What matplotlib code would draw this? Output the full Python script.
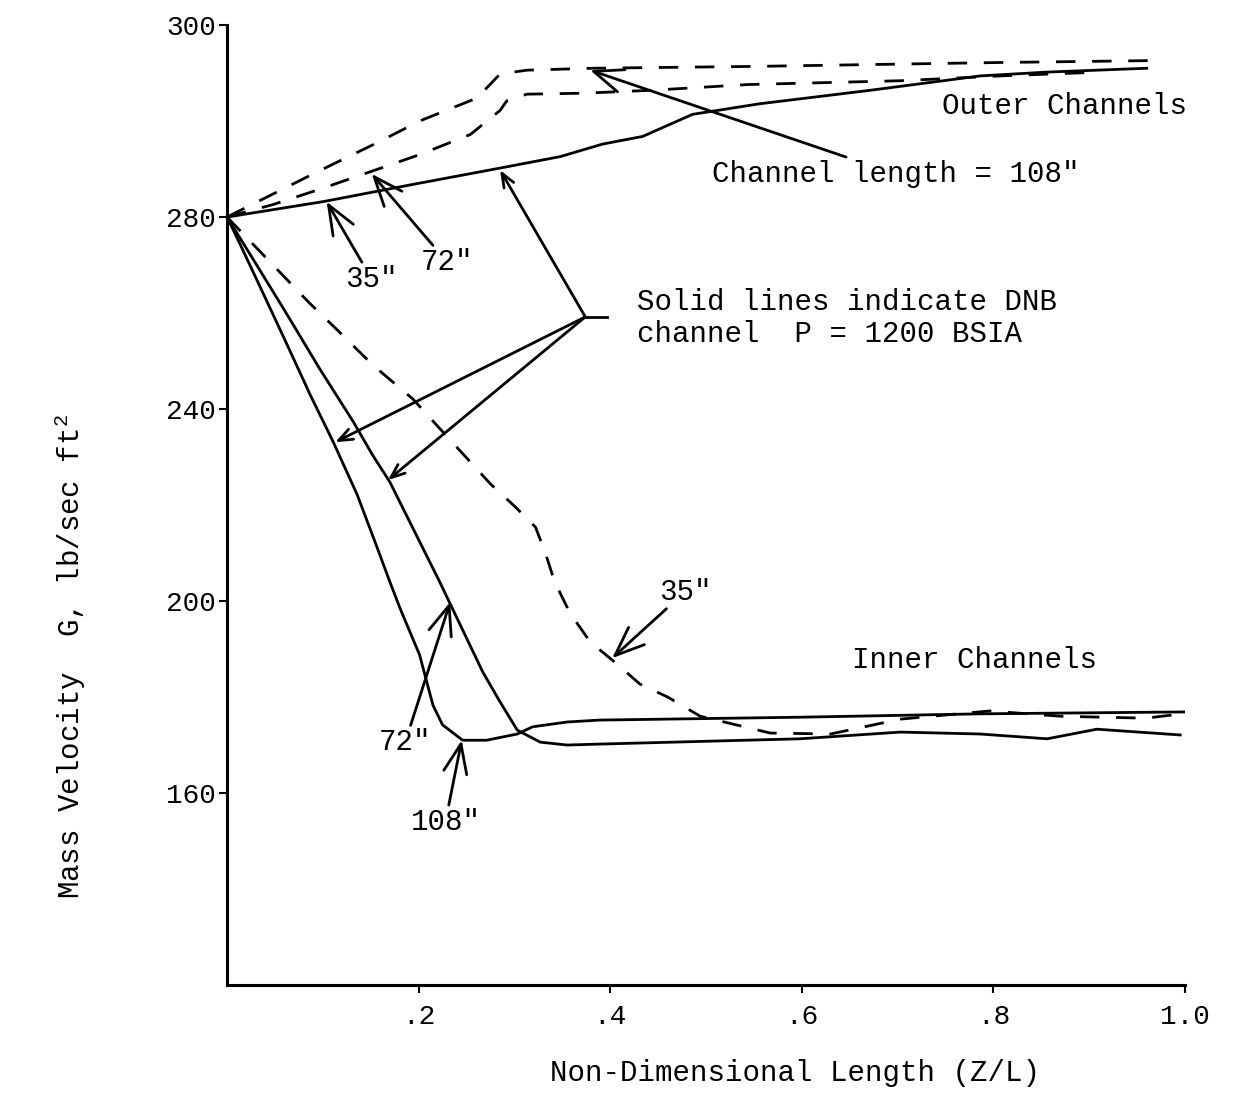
import numpy as np
import matplotlib
matplotlib.use("Agg")
import matplotlib.pyplot as plt

plt.rcParams['font.family'] = ['Liberation Mono', 'DejaVu Sans Mono']
plt.rcParams['mathtext.fontset'] = 'custom'
plt.rcParams['mathtext.rm'] = 'Liberation Mono'

# Outer channels (values above 280 drawn on a doubled scale)
outer_solid_x = [0.000, 0.100, 0.194, 0.285, 0.348, 0.392, 0.434, 0.452, 0.486, 0.556, 0.671, 0.786, 0.856, 0.960]
outer_solid_y = [280.0, 281.6, 283.4, 285.1, 286.3, 287.6, 288.4, 289.2, 290.7, 291.8, 293.2, 294.7, 295.1, 295.5]

outer_108_x = [0.000, 0.038, 0.094, 0.160, 0.201, 0.261, 0.285, 0.313, 0.382, 0.556, 0.807, 0.967]
outer_108_y = [280.0, 281.9, 284.7, 287.9, 290.0, 292.4, 294.9, 295.3, 295.5, 295.7, 296.1, 296.3]

outer_72_x = [0.000, 0.048, 0.097, 0.201, 0.254, 0.285, 0.292, 0.313, 0.372, 0.442, 0.543, 0.703, 0.807, 0.911]
outer_72_y = [280.0, 281.3, 282.9, 286.5, 288.6, 291.1, 292.1, 292.8, 292.9, 293.2, 293.8, 294.2, 294.7, 295.1]

# Inner channels
inner_108_x = [0.000, 0.014, 0.038, 0.063, 0.087, 0.111, 0.136, 0.157, 0.170, 0.181, 0.201, 0.215, 0.225, 0.246, 0.271, 0.303, 0.319, 0.355, 0.389, 0.598, 0.786, 1.000]
inner_108_y = [280.0, 274.2, 264.0, 253.3, 242.9, 233.1, 222.1, 211.0, 204.0, 198.3, 188.8, 178.3, 174.2, 171.0, 171.0, 172.3, 173.8, 174.8, 175.2, 175.8, 176.5, 176.9]

inner_72_x = [0.000, 0.027, 0.063, 0.097, 0.132, 0.152, 0.170, 0.222, 0.233, 0.267, 0.285, 0.303, 0.327, 0.355, 0.389, 0.598, 0.703, 0.786, 0.856, 0.908, 0.995]
inner_72_y = [280.0, 271.3, 259.6, 248.3, 237.3, 230.4, 224.8, 204.0, 199.4, 185.2, 179.0, 173.1, 170.6, 170.0, 170.2, 171.3, 172.7, 172.3, 171.3, 173.3, 172.1]

inner_35_x = [0.000, 0.085, 0.115, 0.152, 0.194, 0.230, 0.275, 0.301, 0.322, 0.332, 0.342, 0.358, 0.379, 0.407, 0.431, 0.460, 0.494, 0.567, 0.630, 0.703, 0.796, 0.870, 0.959, 1.005]
inner_35_y = [280.0, 262.3, 256.5, 249.2, 242.1, 234.2, 224.4, 219.6, 215.4, 210.2, 204.0, 197.5, 191.5, 186.9, 182.7, 180.0, 176.0, 172.5, 172.3, 175.4, 177.1, 176.0, 175.6, 176.7]

x_ticks = [0.2, 0.4, 0.6, 0.8, 1.0]
x_tick_labels = ['.2', '.4', '.6', '.8', '1.0']
y_ticks = [160, 200, 240, 280, 300]


def fwd(y):
    y = np.asarray(y, dtype=float)
    return np.where(y <= 280, y, 280 + 2 * (y - 280))


def inv(v):
    v = np.asarray(v, dtype=float)
    return np.where(v <= 280, v, 280 + (v - 280) / 2)


fig = plt.figure(figsize=(12.33, 10.94), dpi=100)
ax = fig.add_axes([0.1841, 0.0996, 0.7770, 0.8775])
ax.set_yscale('function', functions=(fwd, inv))

lw = 2.0
dash = (0, (7, 6))
ax.plot(outer_solid_x, outer_solid_y, color='black', lw=lw)
ax.plot(outer_108_x, outer_108_y, color='black', lw=lw, ls=dash)
ax.plot(outer_72_x, outer_72_y, color='black', lw=lw, ls=dash)
ax.plot(inner_108_x, inner_108_y, color='black', lw=lw)
ax.plot(inner_72_x, inner_72_y, color='black', lw=lw)
ax.plot(inner_35_x, inner_35_y, color='black', lw=lw, ls=dash)

ax.set_xlim(0, 1.0)
ax.set_ylim(120, 300)
ax.set_xticks(x_ticks)
ax.set_xticklabels(x_tick_labels)
ax.set_yticks(y_ticks)
ax.set_yticklabels([str(v) for v in y_ticks])
ax.minorticks_off()
ax.tick_params(axis='both', direction='out', length=6, width=1.5, labelsize=20, pad=2)
ax.tick_params(axis='x', pad=8)
for s in ['top', 'right']:
    ax.spines[s].set_visible(False)
for s in ['left', 'bottom']:
    ax.spines[s].set_linewidth(2.2)

fs = 21
arrow = dict(arrowstyle='->,head_length=1.0,head_width=0.4', color='black', lw=2,
             shrinkA=0, shrinkB=0)

ax.annotate('Channel length = 108"', xy=(0.379, 295.3), xytext=(0.506, 284.5),
            ha='left', va='center', fontsize=fs, arrowprops=arrow)
ax.text(0.746, 291.6, 'Outer Channels', ha='left', va='center', fontsize=fs)
ax.annotate('35"', xy=(0.104, 281.6), xytext=(0.151, 267.1),
            ha='center', va='center', fontsize=fs, arrowprops=arrow)
ax.annotate('72"', xy=(0.151, 284.5), xytext=(0.230, 270.6),
            ha='center', va='center', fontsize=fs, arrowprops=arrow)

ax.text(0.428, 259.0, 'Solid lines indicate DNB\nchannel  P = 1200 BSIA',
        ha='left', va='center', fontsize=fs, linespacing=1.2)
origin = (0.374, 259.2)
ax.plot([0.374, 0.397], [259.2, 259.2], color='black', lw=lw)
for tip in [(0.285, 284.9), (0.113, 233.1), (0.168, 225.2)]:
    ax.annotate('', xy=tip, xytext=origin, arrowprops=arrow)

ax.annotate('35"', xy=(0.402, 188.1), xytext=(0.478, 201.9),
            ha='center', va='center', fontsize=fs, arrowprops=arrow)
ax.text(0.652, 187.7, 'Inner Channels', ha='left', va='center', fontsize=fs)
ax.annotate('72"', xy=(0.233, 199.8), xytext=(0.186, 170.6),
            ha='center', va='center', fontsize=fs, arrowprops=arrow)
ax.annotate('108"', xy=(0.245, 171.0), xytext=(0.228, 154.0),
            ha='center', va='center', fontsize=fs, arrowprops=arrow)

fig.text(0.645, 0.019, 'Non-Dimensional Length (Z/L)', ha='center', va='center', fontsize=fs)
fig.text(0.057, 0.40, 'Mass Velocity  G, lb/sec ft$^2$', ha='center', va='center',
         rotation=90, fontsize=fs)

fig.savefig('out.png', dpi=100)
